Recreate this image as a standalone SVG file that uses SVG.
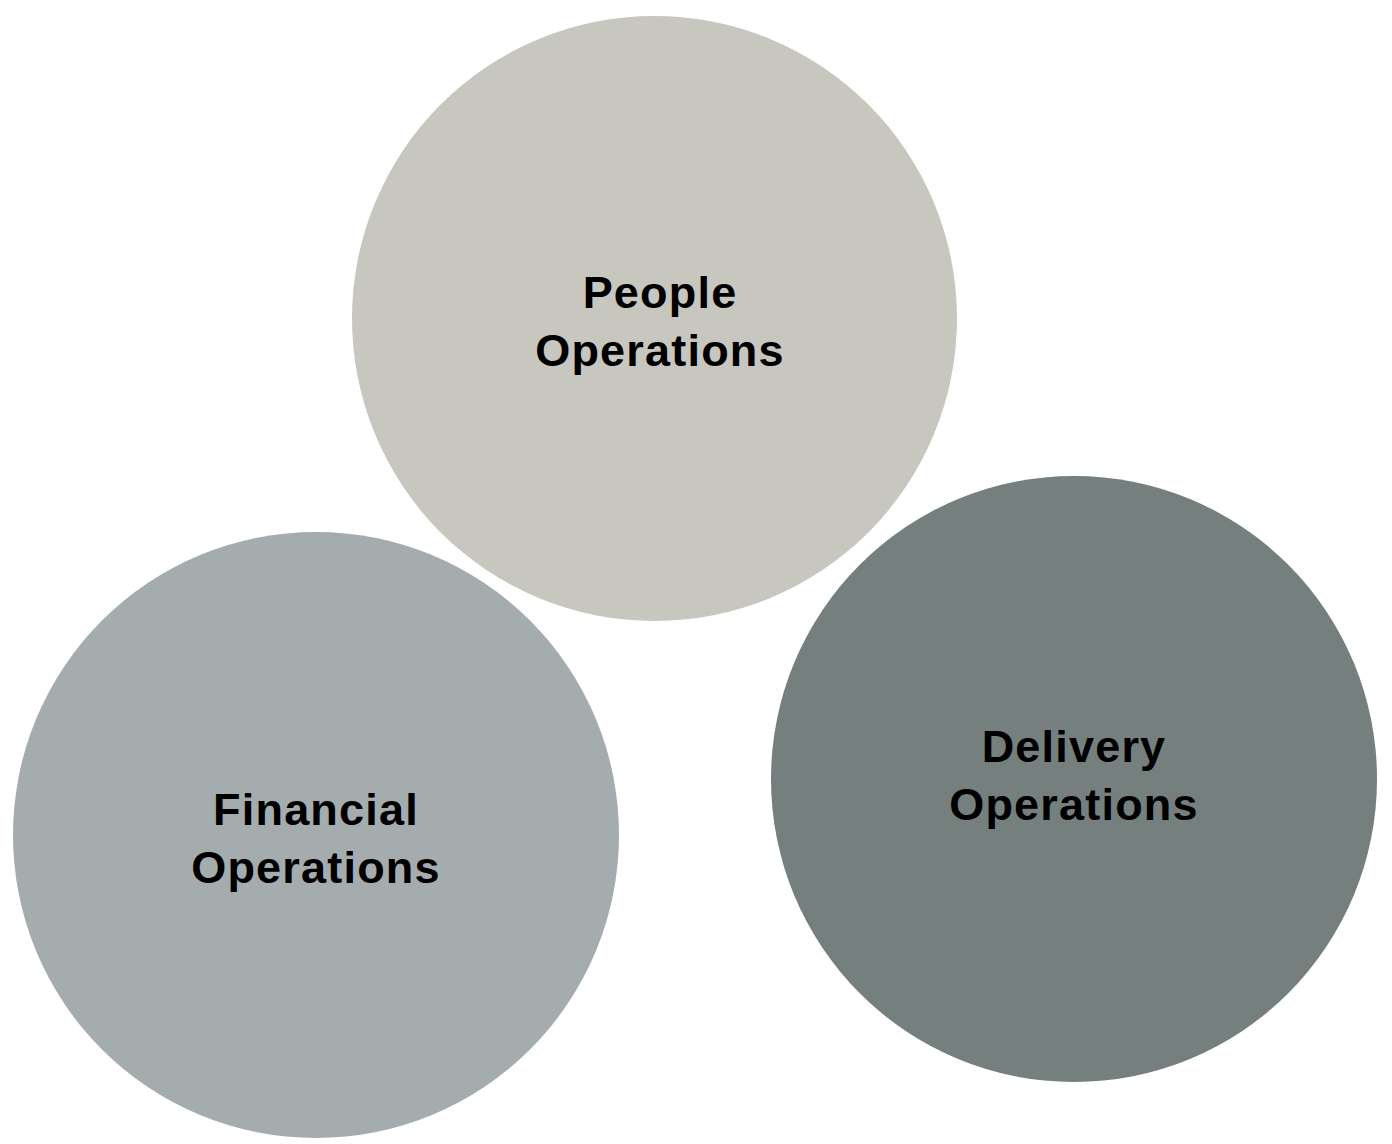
<svg xmlns="http://www.w3.org/2000/svg" width="1392" height="1144" viewBox="0 0 1392 1144">
<style>
.lbl{font-family:"Liberation Sans",Arial,sans-serif;font-weight:bold;font-size:45px;fill:#000;text-anchor:middle;letter-spacing:1.2px}
</style>
<rect width="1392" height="1144" fill="#fff"/>
<g id="people">
<circle cx="654.5" cy="318.5" r="302.5" fill="#C7C7BF"/>
<text class="lbl" x="660" y="308">People</text>
<text class="lbl" x="660" y="366">Operations</text>
</g>
<g id="financial">
<circle cx="316" cy="835" r="303" fill="#A5ACAE"/>
<text class="lbl" x="316" y="825">Financial</text>
<text class="lbl" x="316" y="883">Operations</text>
</g>
<g id="delivery">
<circle cx="1074" cy="779" r="303" fill="#747F7E"/>
<text class="lbl" x="1074" y="762">Delivery</text>
<text class="lbl" x="1074" y="820">Operations</text>
</g>
<g id="connectors"></g>
</svg>
